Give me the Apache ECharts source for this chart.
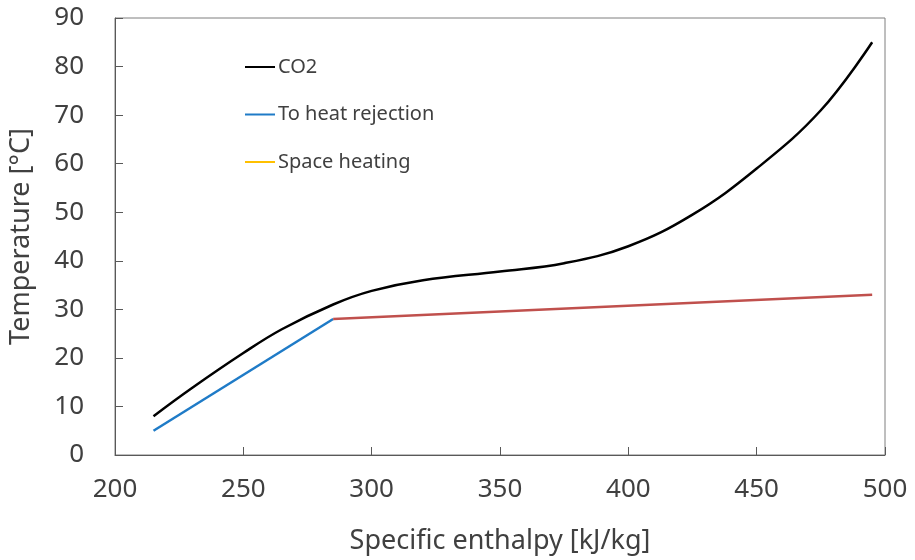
<!DOCTYPE html>
<html>
<head>
<meta charset="utf-8">
<script src="https://cdn.jsdelivr.net/npm/echarts@6/dist/echarts.min.js"></script>
<style>
  html, body { margin: 0; padding: 0; background: #fff; }
  #chart { width: 915px; height: 560px; }
</style>
</head>
<body>
<div id="chart"></div>
<script>
// values
const co2Points = [
  [215, 8], [230, 13.8], [250, 21], [265, 25.9], [285, 31], [300, 33.8],
  [320, 36], [350, 37.8], [375, 39.5], [400, 43], [425, 49.5],
  [450, 59], [475, 71], [495, 85]
];
const heatRejection = [[215, 5], [285, 28]];
const spaceHeating = [[285, 28], [495, 33]];
const seriesNames = ['CO2', 'To heat rejection', 'Space heating'];

const font = '"Noto Sans", sans-serif';
const chart = echarts.init(document.getElementById('chart'));

chart.setOption({
  animation: false,
  grid: {
    left: 114, right: 30, top: 18, bottom: 105,
    show: true, borderColor: '#7f7f7f', borderWidth: 1
  },
  legend: {
    orient: 'vertical',
    left: 240, top: 52,
    icon: 'rect',
    itemWidth: 30, itemHeight: 2,
    itemGap: 27.5,
    textStyle: { fontFamily: font, fontSize: 20, color: '#404040', padding: [0, 0, 0, -2] },
    data: [
      { name: seriesNames[0], itemStyle: { color: '#000000' } },
      { name: seriesNames[1], itemStyle: { color: '#1f7bc7' } },
      { name: seriesNames[2], itemStyle: { color: '#ffc000' } }
    ]
  },
  xAxis: {
    type: 'value', min: 200, max: 500, interval: 50,
    name: 'Specific enthalpy [kJ/kg]', nameLocation: 'middle', nameGap: 73,
    nameTextStyle: { fontFamily: font, fontSize: 27, color: '#404040' },
    axisLine: { lineStyle: { color: '#595959' } },
    axisTick: { inside: true, length: 8, lineStyle: { color: '#595959' } },
    axisLabel: { fontFamily: font, fontSize: 26, color: '#404040', margin: 22 },
    splitLine: { show: false }
  },
  yAxis: {
    type: 'value', min: 0, max: 90, interval: 10,
    name: 'Temperature [°C]', nameLocation: 'middle', nameGap: 80,
    nameTextStyle: { fontFamily: font, fontSize: 27, color: '#404040' },
    axisLine: { show: true, lineStyle: { color: '#595959' } },
    axisTick: { show: true, inside: true, length: 8, lineStyle: { color: '#595959' } },
    axisLabel: { fontFamily: font, fontSize: 26, color: '#404040', margin: 31 },
    splitLine: { show: false }
  },
  series: [
    {
      name: seriesNames[0], type: 'line', data: co2Points, smooth: 0.4,
      showSymbol: false, lineStyle: { color: '#000000', width: 2.5 }, itemStyle: { color: '#000000' }
    },
    {
      name: seriesNames[1], type: 'line', data: heatRejection,
      showSymbol: false, lineStyle: { color: '#1f7bc7', width: 2.5 }, itemStyle: { color: '#1f7bc7' }
    },
    {
      name: seriesNames[2], type: 'line', data: spaceHeating,
      showSymbol: false, lineStyle: { color: '#c0504d', width: 2.5 }, itemStyle: { color: '#ffc000' }
    }
  ]
});
</script>
</body>
</html>
